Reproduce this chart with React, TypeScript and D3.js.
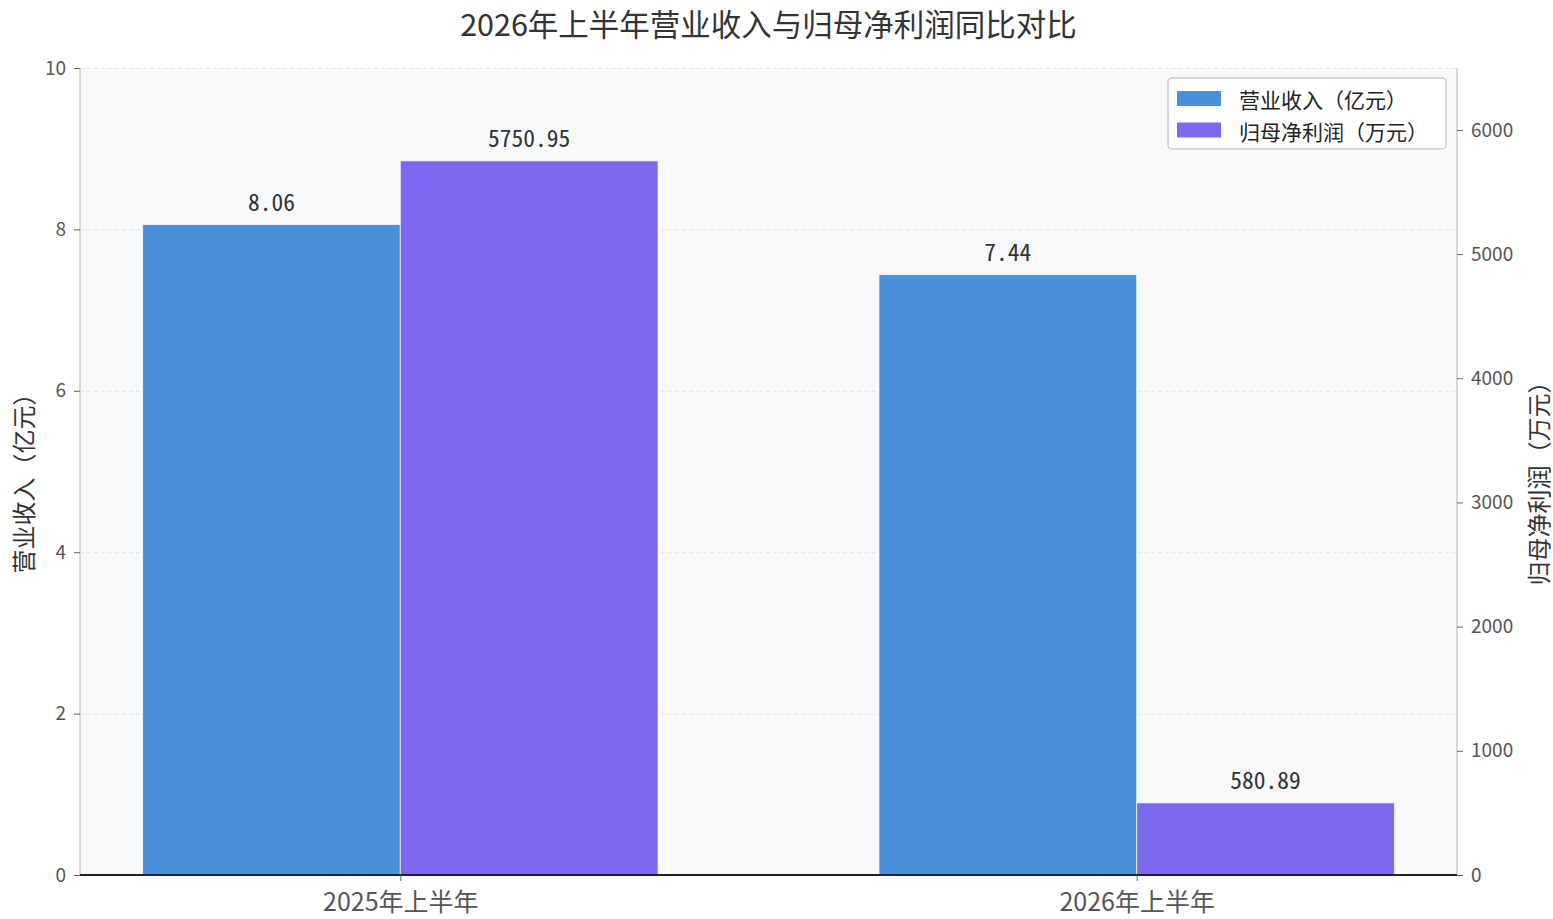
import React, { useEffect, useRef } from 'react';
import * as d3 from 'd3';

const W = 1553;
const H = 919;
const margin = { top: 68, left: 80, right: 96, bottom: 44 };
const plotW = W - margin.left - margin.right;
const plotH = H - margin.top - margin.bottom;

const categories = ['2025年上半年', '2026年上半年'];
const revenue = [8.06, 7.44]; // 亿元
const profit = [5750.95, 580.89]; // 万元
const leftTicks = [0, 2, 4, 6, 8, 10];
const rightTicks = [0, 1000, 2000, 3000, 4000, 5000, 6000];

const seriesNames = ['营业收入（亿元）', '归母净利润（万元）'];
const colors = ['#4A90D9', '#7B68EE'];

const FONT = "'Noto Sans CJK SC', sans-serif";
const MONO = "'Noto Sans Mono CJK SC', 'Noto Sans CJK SC', monospace";
const barWidth = 0.35;

const App: React.FC = () => {
  const ref = useRef<SVGSVGElement>(null);

  useEffect(() => {
    if (ref.current) draw(ref.current);
  }, []);

  return (
    <svg
      ref={ref}
      width={W}
      height={H}
      style={{ position: 'absolute', left: 0, top: 0, background: '#fff' }}
    />
  );
};

const draw = (el: SVGSVGElement) => {
  const root = d3.select(el);
  root.selectAll('*').remove();
  root.style('font-family', FONT);

  // matplotlib-like 5% margins around the bar extents
  const lo = -barWidth;
  const hi = categories.length - 1 + barWidth;
  const pad = (hi - lo) * 0.05;
  const x = d3.scaleLinear().domain([lo - pad, hi + pad]).range([0, plotW]);
  const yL = d3.scaleLinear().domain([0, 10]).range([plotH, 0]);
  const yR = d3.scaleLinear().domain([0, d3.max(profit)! * 1.13]).range([plotH, 0]);

  const g = root.append('g').attr('transform', `translate(${margin.left},${margin.top})`);

  g.append('rect').attr('width', plotW).attr('height', plotH).attr('fill', '#f8f9fb');

  // grid
  g.selectAll('.grid')
    .data(leftTicks)
    .enter()
    .append('line')
    .attr('x1', 0)
    .attr('x2', plotW)
    .attr('y1', (d) => yL(d) + 0.5)
    .attr('y2', (d) => yL(d) + 0.5)
    .attr('stroke', '#e3e5e8')
    .attr('stroke-width', 1)
    .attr('stroke-dasharray', '4,3');

  // bars
  const drawBars = (vals: number[], y: d3.ScaleLinear<number, number>, offset: number, color: string) => {
    g.append('g')
      .selectAll('rect')
      .data(vals)
      .enter()
      .append('rect')
      .attr('x', (_, i) => x(i + offset))
      .attr('width', x(barWidth) - x(0))
      .attr('y', (d) => y(d))
      .attr('height', (d) => plotH - y(d))
      .attr('fill', color)
      .attr('stroke', 'rgba(255,255,255,0.7)')
      .attr('stroke-width', 1);

    g.append('g')
      .selectAll('text')
      .data(vals)
      .enter()
      .append('text')
      .attr('x', (_, i) => x(i + offset + barWidth / 2))
      .attr('y', (d) => y(d) - 14)
      .attr('text-anchor', 'middle')
      .attr('fill', '#333')
      .style('font-family', MONO)
      .style('font-size', '23.5px')
      .text((d) => d.toFixed(2));
  };
  drawBars(revenue, yL, -barWidth, colors[0]);
  drawBars(profit, yR, 0, colors[1]);

  // left axis
  const left = g.append('g').call(d3.axisLeft(yL).tickValues(leftTicks).tickSize(6).tickPadding(8));
  left.select('.domain').attr('stroke', '#ccc').attr('stroke-width', 1.5).attr('d', `M0,0V${plotH}`);
  left.selectAll('.tick line').attr('stroke', '#666');
  left.selectAll('.tick text').attr('fill', '#555').style('font-size', '19px').style('font-family', FONT);

  // right axis
  const right = g
    .append('g')
    .attr('transform', `translate(${plotW},0)`)
    .call(d3.axisRight(yR).tickValues(rightTicks).tickFormat(d3.format('d')).tickSize(6).tickPadding(8));
  right.select('.domain').attr('stroke', '#ccc').attr('stroke-width', 1.5).attr('d', `M0,0V${plotH}`);
  right.selectAll('.tick line').attr('stroke', '#666');
  right.selectAll('.tick text').attr('fill', '#555').style('font-size', '19px').style('font-family', FONT);

  // bottom axis
  const bottom = g
    .append('g')
    .attr('transform', `translate(0,${plotH})`)
    .call(
      d3
        .axisBottom(x)
        .tickValues(categories.map((_, i) => i))
        .tickFormat((d) => categories[d as number])
        .tickSize(6)
        .tickPadding(12)
    );
  bottom.select('.domain').attr('stroke', '#222').attr('stroke-width', 2).attr('d', `M0,0H${plotW}`);
  bottom.selectAll('.tick line').attr('stroke', '#666');
  bottom.selectAll('.tick text').attr('fill', '#555').style('font-size', '25px').style('font-family', FONT);

  // axis titles
  root
    .append('text')
    .attr('transform', `translate(22,${margin.top + plotH / 2 + 6}) rotate(-90)`)
    .attr('text-anchor', 'middle')
    .attr('dominant-baseline', 'central')
    .attr('fill', '#333')
    .style('font-size', '24px')
    .text(seriesNames[0]);

  root
    .append('text')
    .attr('transform', `translate(1537,${margin.top + plotH / 2 + 6}) rotate(-90)`)
    .attr('text-anchor', 'middle')
    .attr('dominant-baseline', 'central')
    .attr('fill', '#333')
    .style('font-size', '24px')
    .text(seriesNames[1]);

  // title
  root
    .append('text')
    .attr('x', margin.left + plotW / 2)
    .attr('y', 36)
    .attr('text-anchor', 'middle')
    .attr('fill', '#333')
    .style('font-size', '30.5px')
    .text('2026年上半年营业收入与归母净利润同比对比');

  // legend
  const lg = root.append('g').attr('transform', 'translate(1168,78)');
  lg.append('rect')
    .attr('width', 278)
    .attr('height', 71)
    .attr('rx', 4)
    .attr('fill', '#fff')
    .attr('fill-opacity', 0.9)
    .attr('stroke', '#ccc')
    .attr('stroke-width', 1.5);
  seriesNames.forEach((name, i) => {
    const row = lg.append('g').attr('transform', `translate(0,${21 + i * 31.5})`);
    row.append('rect').attr('x', 9).attr('y', -8).attr('width', 44).attr('height', 15).attr('fill', colors[i]);
    row
      .append('text')
      .attr('x', 71)
      .attr('y', 0)
      .attr('dominant-baseline', 'central')
      .attr('fill', '#222')
      .style('font-size', '21px')
      .text(name);
  });
};

export default App;
